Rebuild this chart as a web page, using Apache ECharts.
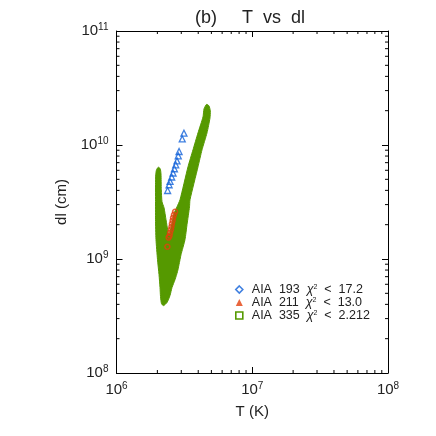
<!DOCTYPE html>
<html>
<head>
<meta charset="utf-8">
<script src="https://cdn.jsdelivr.net/npm/echarts@6/dist/echarts.min.js"></script>
<style>
  html, body { margin: 0; padding: 0; background: #fff; }
  #chart { width: 436px; height: 436px; }
</style>
</head>
<body>
<div id="chart"></div>
<script>
// outline of the AIA 335 cloud (T in K, dl in cm)
var greenT = [1.945e6, 1.971e6, 2.032e6, 2.099e6, 2.127e6, 2.138e6, 2.164e6, 2.239e6, 2.316e6, 2.395e6,
    2.436e6, 2.563e6, 2.652e6, 2.791e6, 2.937e6, 3.363e6, 3.660e6, 3.985e6, 4.338e6, 4.412e6,
    4.603e6, 4.802e6, 4.909e6, 4.884e6, 4.642e6, 4.265e6, 3.985e6, 3.479e6, 3.450e6, 3.306e6,
    3.196e6, 2.987e6, 2.887e6, 2.814e6, 2.698e6, 2.563e6, 2.478e6, 2.355e6, 2.220e6, 2.145e6,
    2.110e6, 2.092e6, 2.057e6, 2.005e6, 1.954e6, 1.938e6, 1.938e6, 1.938e6];
var greenDl = [5.48e9, 6.06e9, 6.38e9, 6.19e9, 5.59e9, 4.05e9, 3.18e9, 2.82e9, 2.21e9, 1.74e9,
    1.60e9, 2.04e9, 2.49e9, 2.87e9, 3.31e9, 6.44e9, 9.07e9, 1.278e10, 1.765e10, 2.074e10,
    2.271e10, 2.203e10, 1.992e10, 1.730e10, 1.278e10, 9.07e9, 6.44e9, 3.31e9, 2.87e9, 2.00e9,
    1.48e9, 1.09e9, 8.92e8, 7.75e8, 6.59e8, 5.61e8, 4.78e8, 4.15e8, 3.90e8, 4.06e8,
    4.68e8, 5.61e8, 7.29e8, 9.87e8, 1.48e9, 2.21e9, 3.31e9, 4.48e9];

var blueT = [2.38e6, 2.44e6, 2.48e6, 2.55e6, 2.61e6, 2.67e6, 2.73e6, 2.79e6, 2.85e6, 2.89e6, 3.05e6, 3.14e6];
var blueDl = [3.99e9, 4.48e9, 4.79e9, 5.24e9, 5.68e9, 6.19e9, 6.70e9, 7.26e9, 8.04e9, 8.77e9, 1.13e10, 1.27e10];

var redT = [2.70e6, 2.65e6, 2.61e6, 2.59e6, 2.56e6, 2.54e6, 2.52e6, 2.48e6, 2.46e6, 2.42e6, 2.37e6];
var redDl = [2.60e9, 2.44e9, 2.30e9, 2.17e9, 2.04e9, 1.92e9, 1.81e9, 1.70e9, 1.60e9, 1.54e9, 1.28e9];

var seriesNames = ['AIA 193', 'AIA 211', 'AIA 335'];
var chiLimits = ['17.2', '13.0', '2.212'];

var tMin = 1e6, tMax = 1e8, dlMin = 1e8, dlMax = 1e11;
var minorT = [2e6, 3e6, 4e6, 5e6, 6e6, 7e6, 8e6, 9e6, 2e7, 3e7, 4e7, 5e7, 6e7, 7e7, 8e7, 9e7];
var minorDl = [2e8, 3e8, 4e8, 5e8, 6e8, 7e8, 8e8, 9e8, 2e9, 3e9, 4e9, 5e9, 6e9, 7e9, 8e9, 9e9,
    2e10, 3e10, 4e10, 5e10, 6e10, 7e10, 8e10, 9e10];

var FONT = 'Liberation Sans';
var TXT = '#222';

function pairs(xs, ys) {
    return xs.map(function (x, i) { return [x, ys[i]]; });
}
function powLabel(v) {
    var e = Math.round(Math.log10(v));
    return '{b|10}{s|' + e + '}';
}
var powRich = {
    b: { fontSize: 15, fontFamily: FONT, color: TXT, lineHeight: 18 },
    s: { fontSize: 10, fontFamily: FONT, color: TXT, verticalAlign: 'top', lineHeight: 18, padding: [0, 0, 6, 0] }
};

var chart = echarts.init(document.getElementById('chart'));

var axisCommon = {
    type: 'log',
    logBase: 10,
    axisLine: { show: true, lineStyle: { color: '#000', width: 1 } },
    axisTick: { show: true, inside: true, length: 6, lineStyle: { color: '#000' } },
    splitLine: { show: false },
    minorTick: { show: false }
};

var option = {
    animation: false,
    backgroundColor: '#fff',
    title: {
        text: '(b)     T  vs  dl',
        left: 190,
        top: 4,
        textStyle: { fontFamily: FONT, fontSize: 18, fontWeight: 'normal', color: TXT }
    },
    grid: { left: 116.5, right: 48, top: 31, bottom: 63 },
    legend: {
        orient: 'vertical',
        left: 230,
        top: 278,
        itemWidth: 7,
        itemHeight: 7,
        itemGap: 0,
        data: [
            { name: seriesNames[0], icon: 'diamond', itemStyle: { color: 'rgba(0,0,0,0)', borderColor: '#1060d8', borderWidth: 1.6 } },
            { name: seriesNames[1], icon: 'triangle', itemStyle: { color: '#e4400c', borderWidth: 0 } },
            { name: seriesNames[2], icon: 'rect', itemStyle: { color: 'rgba(0,0,0,0)', borderColor: '#559900', borderWidth: 1.6 } }
        ],
        formatter: function (name) {
            var i = seriesNames.indexOf(name);
            return '{p|}{t|' + name.replace(' ', '  ') + '  }{c|χ}{s|2}{t|  <  ' + chiLimits[i] + '}';
        },
        textStyle: {
            fontFamily: FONT, fontSize: 12.5, color: TXT, lineHeight: 12,
            rich: {
                p: { width: 4, lineHeight: 12 },
                t: { fontFamily: FONT, fontSize: 12.5, color: TXT, lineHeight: 12 },
                c: { fontFamily: FONT, fontSize: 12.5, fontStyle: 'italic', color: TXT, lineHeight: 12 },
                s: { fontFamily: FONT, fontSize: 7, color: TXT, verticalAlign: 'top', lineHeight: 12, padding: [0, 0, 5, 0] }
            }
        }
    },
    xAxis: [
        Object.assign({}, axisCommon, {
            min: tMin, max: tMax,
            position: 'bottom',
            name: 'T (K)',
            nameLocation: 'middle',
            nameGap: 31,
            nameTextStyle: { fontFamily: FONT, fontSize: 15, color: TXT },
            axisLabel: { show: true, margin: 8, formatter: powLabel, rich: powRich }
        }),
        Object.assign({}, axisCommon, {
            min: tMin, max: tMax,
            position: 'top',
            axisLabel: { show: false }
        })
    ],
    yAxis: [
        Object.assign({}, axisCommon, {
            min: dlMin, max: dlMax,
            position: 'left',
            name: 'dl (cm)',
            nameLocation: 'middle',
            nameGap: 46,
            nameRotate: 90,
            nameTextStyle: { fontFamily: FONT, fontSize: 15, color: TXT },
            axisLabel: { show: true, margin: 8, formatter: powLabel, rich: powRich }
        }),
        Object.assign({}, axisCommon, {
            min: dlMin, max: dlMax,
            position: 'right',
            axisLabel: { show: false }
        })
    ],
    series: [
        {
            name: seriesNames[2],
            type: 'custom',
            clip: true,
            data: [[greenT[0], greenDl[0]]],
            renderItem: function (params, api) {
                var pts = greenT.map(function (t, i) { return api.coord([t, greenDl[i]]); });
                return {
                    type: 'polygon',
                    shape: { points: pts, smooth: 0.2 },
                    style: { fill: '#559900', stroke: '#559900', lineWidth: 1 }
                };
            },
            z: 2
        },
        {
            name: seriesNames[1],
            type: 'scatter',
            symbol: 'circle',
            symbolSize: 5,
            itemStyle: { color: 'rgba(0,0,0,0)', borderColor: '#e4400c', borderWidth: 1.5 },
            data: pairs(redT, redDl),
            z: 3
        },
        {
            name: seriesNames[0],
            type: 'scatter',
            symbol: 'triangle',
            symbolSize: 6,
            itemStyle: { color: 'rgba(0,0,0,0)', borderColor: '#1060d8', borderWidth: 1.3 },
            data: pairs(blueT, blueDl),
            z: 3
        },
        {
            // minor ticks along bottom and top
            type: 'custom',
            silent: true,
            clip: false,
            data: minorT.map(function (v) { return [v, dlMin]; }),
            renderItem: function (params, api) {
                var v = api.value(0);
                var b = api.coord([v, dlMin]);
                var t = api.coord([v, dlMax]);
                var st = { stroke: '#000', lineWidth: 1 };
                return {
                    type: 'group',
                    children: [
                        { type: 'line', shape: { x1: b[0], y1: b[1], x2: b[0], y2: b[1] - 3 }, style: st },
                        { type: 'line', shape: { x1: t[0], y1: t[1], x2: t[0], y2: t[1] + 3 }, style: st }
                    ]
                };
            },
            z: 5
        },
        {
            // minor ticks along left and right
            type: 'custom',
            silent: true,
            clip: false,
            data: minorDl.map(function (v) { return [tMin, v]; }),
            renderItem: function (params, api) {
                var v = api.value(1);
                var l = api.coord([tMin, v]);
                var r = api.coord([tMax, v]);
                var st = { stroke: '#000', lineWidth: 1 };
                return {
                    type: 'group',
                    children: [
                        { type: 'line', shape: { x1: l[0], y1: l[1], x2: l[0] + 3, y2: l[1] }, style: st },
                        { type: 'line', shape: { x1: r[0], y1: r[1], x2: r[0] - 3, y2: r[1] }, style: st }
                    ]
                };
            },
            z: 5
        }
    ]
};

chart.setOption(option);
</script>
</body>
</html>
